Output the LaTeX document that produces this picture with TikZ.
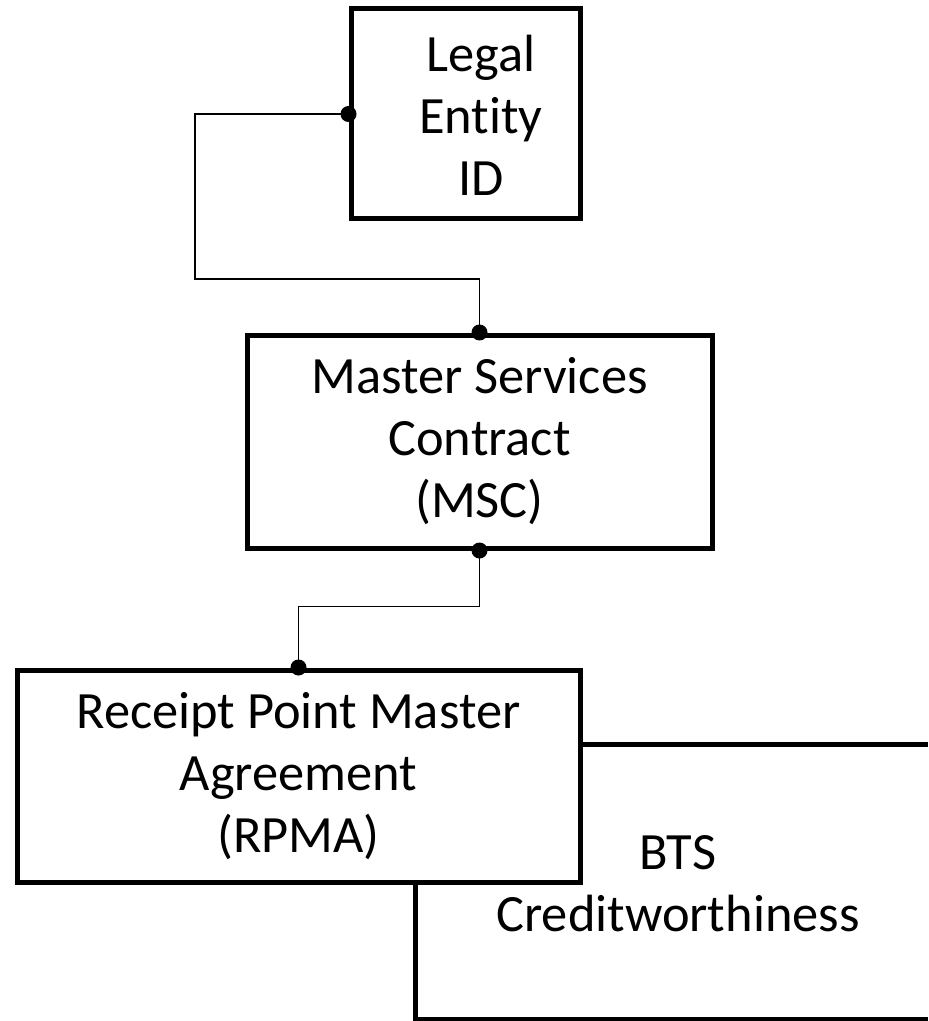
\documentclass[tikz,border=0pt]{standalone}
\usepackage{fontspec}
\setmainfont[Ligatures=NoCommon]{Carlito}
\usetikzlibrary{positioning,calc}

\begin{document}
\begin{tikzpicture}[x=0.5pt,y=-0.5pt,
                    font=\fontsize{26.2}{31}\selectfont,
                    block/.style={draw,line width=2.5pt,align=center,inner sep=0pt},
                    link/.style={line width=0.7pt},
                    edge/.style={line width=2.5pt}]

  \useasboundingbox (0,0) rectangle (928,1021);

  \node[block,minimum width=114.5pt,minimum height=105pt]   (legal) at (465.5,114)  {};
  \node[align=center]                                       (legaltext) at (481,115) {Legal\\Entity\\ID};
  \node[block,minimum width=232.5pt,minimum height=106.5pt] (msc)   at (479.5,441.5) {Master Services\\Contract\\(MSC)};
  \node[block,minimum width=281.5pt,minimum height=106pt]   (rpma)  at (298.5,776)  {Receipt Point Master\\Agreement\\(RPMA)};
  \node[align=center]                                       (bts)   at (678,884)    {BTS\\Creditworthiness};

  % BTS box, open to the right
  \coordinate (btstop)  at (928,744.5);
  \coordinate (btsleft) at (415,882);
  \coordinate (btsbot)  at (928,1019);
  \draw[edge] (rpma.east |- btstop) -- (btstop);
  \draw[edge] (btsleft) |- (btsbot);

  % links
  \draw[link] (legal.west) -| (195,279) -| (msc.north);
  \draw[link] (msc.south) |- ($(rpma.north)+(0,-61)$) -- (rpma.north);

  \foreach \p in {legal.west,msc.north,msc.south,rpma.north}
    \fill (\p) circle (4pt);
\end{tikzpicture}
\end{document}
